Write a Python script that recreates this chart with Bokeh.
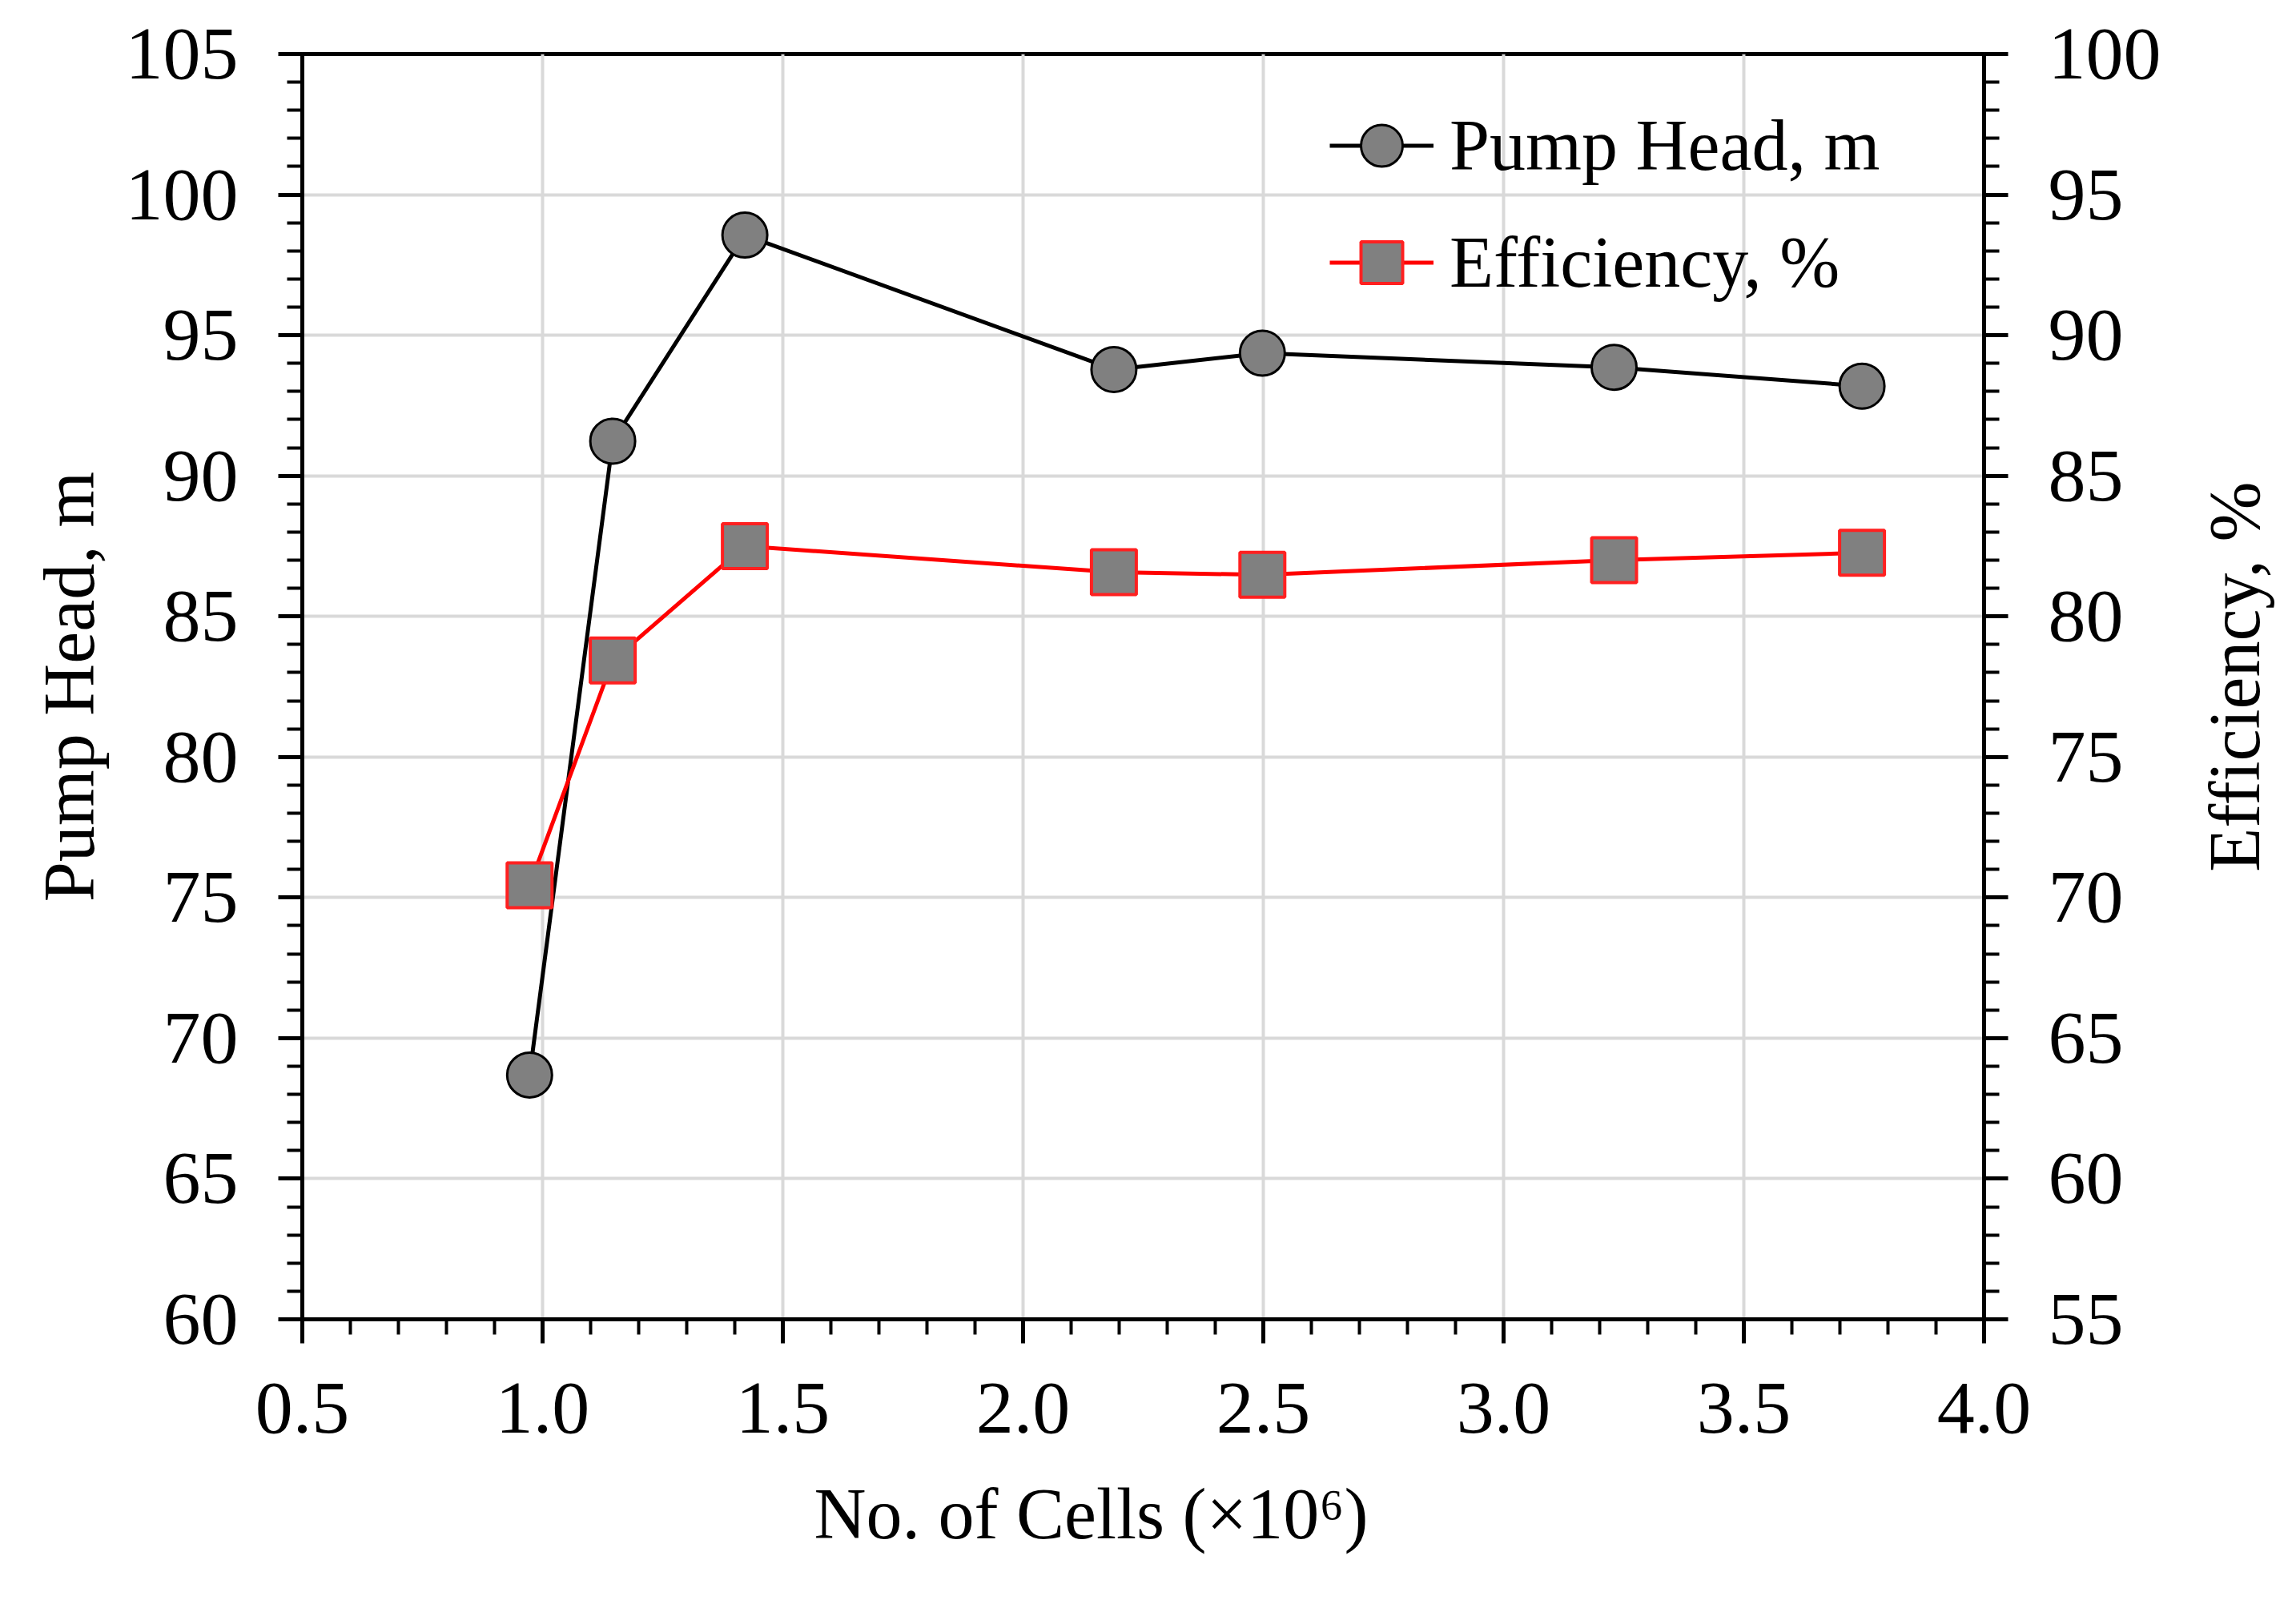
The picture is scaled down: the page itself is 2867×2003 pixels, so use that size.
import math

from bokeh.embed import file_html
from bokeh.resources import INLINE
from bokeh.plotting import figure
from bokeh.layouts import row
from bokeh.models import (Range1d, LinearAxis, SingleIntervalTicker,
                          NumeralTickFormatter, Legend, LegendItem, Title)
from bokeh.core.properties import value

# values
cells = [0.973, 1.146, 1.421, 2.189, 2.498, 3.23, 3.746]
pump_head = [68.69, 91.23, 98.56, 93.78, 94.36, 93.86, 93.19]
efficiency = [70.44, 78.43, 82.5, 81.57, 81.48, 82.0, 82.26]

FONT = "Liberation Serif"
GRID = "#d9d9d9"
H = 1987

p = figure(width=2730, height=H, output_backend="svg", toolbar_location=None,
           x_range=Range1d(0.5, 4.0), y_range=Range1d(60, 105),
           min_border_left=377, min_border_right=253,
           min_border_top=67, min_border_bottom=340)
p.extra_y_ranges = {"eff": Range1d(55, 100)}

p.outline_line_color = "black"
p.outline_line_width = 5
p.background_fill_color = "white"


def style_axis(ax, standoff):
    ax.axis_line_width = 5
    ax.axis_line_color = "black"
    ax.major_tick_out = 30
    ax.major_tick_in = 0
    ax.minor_tick_out = 19
    ax.minor_tick_in = 0
    ax.major_tick_line_width = 5
    ax.minor_tick_line_width = 4
    ax.major_tick_line_color = "black"
    ax.minor_tick_line_color = "black"
    ax.major_label_text_font = FONT
    ax.major_label_text_font_size = "94px"
    ax.major_label_text_color = "black"
    ax.major_label_standoff = standoff
    ax.axis_label_text_font = FONT
    ax.axis_label_text_font_size = "90px"
    ax.axis_label_text_font_style = "normal"
    ax.axis_label_text_color = "black"


xax = p.xaxis[0]
xax.ticker = SingleIntervalTicker(interval=0.5, num_minor_ticks=5)
xax.formatter = NumeralTickFormatter(format="0.0")
style_axis(xax, 50)

yax = p.yaxis[0]
yax.ticker = SingleIntervalTicker(interval=5, num_minor_ticks=5)
yax.axis_label = "Pump Head, m"
style_axis(yax, 50)
yax.axis_label_standoff = 18

rax = LinearAxis(y_range_name="eff",
                 ticker=SingleIntervalTicker(interval=5, num_minor_ticks=5))
style_axis(rax, 50)
p.add_layout(rax, "right")

# x title: a Title below the axis, shifted a little left of the frame centre
xtitle = Title(text="No. of Cells (×10⁶)", align="left", offset=639,
               text_font=FONT, text_font_size="90px", text_font_style="normal",
               text_color="black", standoff=95)
p.add_layout(xtitle, "below")

p.xgrid.ticker = xax.ticker
p.ygrid.ticker = yax.ticker
for g in (p.xgrid[0], p.ygrid[0]):
    g.grid_line_color = GRID
    g.grid_line_width = 4

head_line = p.line(cells, pump_head, line_color="black", line_width=5)
head_pts = p.scatter(cells, pump_head, marker="circle", size=56,
                     fill_color="#808080", line_color="black", line_width=3)

eff_line = p.line(cells, efficiency, y_range_name="eff",
                  line_color="#ff0000", line_width=5)
eff_pts = p.scatter(cells, efficiency, y_range_name="eff", marker="square",
                    size=56, fill_color="#808080", line_color="#ff2020",
                    line_width=4)

legend = Legend(items=[
    LegendItem(label="Pump Head, m", renderers=[head_line, head_pts]),
    LegendItem(label="Efficiency, %", renderers=[eff_line, eff_pts]),
], location=(1283, 1251))
legend.label_text_font = FONT
legend.label_text_font_size = "90px"
legend.label_text_color = "black"
legend.glyph_width = 130
legend.glyph_height = 137
legend.spacing = 9
legend.padding = 0
legend.margin = 0
legend.label_standoff = 20
legend.border_line_color = None
legend.background_fill_alpha = 0
p.add_layout(legend, "center")

# narrow strip on the right that carries the right axis title (bottom-to-top)
side = figure(width=121, height=H, output_backend="svg", toolbar_location=None,
              x_range=Range1d(0, 121), y_range=Range1d(0, H),
              x_axis_location=None, y_axis_location=None,
              min_border=0, outline_line_color=None)
side.grid.visible = False
side.text(x=[60], y=[1009], text=["Efficiency, %"], angle=math.pi / 2,
          text_align="center", text_baseline="middle",
          text_font=value(FONT), text_font_size="90px", text_color="black")

layout = row(p, side, spacing=0)

open("out.html", "w").write(file_html(layout, INLINE))
